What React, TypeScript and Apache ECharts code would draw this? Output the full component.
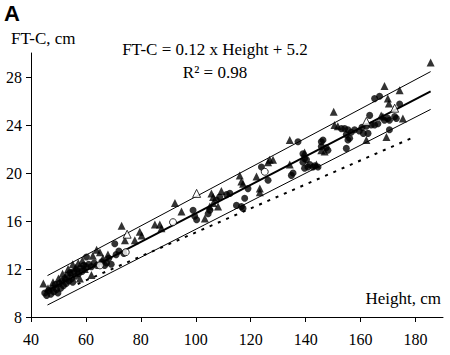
import React, { useEffect, useRef } from 'react';
import * as echarts from 'echarts';

const xTicks = [40, 60, 80, 100, 120, 140, 160, 180];
const yTicks = [8, 12, 16, 20, 24, 28];

const filledCircles: number[][] = [
  [45.0, 10.0], [45.7, 9.8], [46.5, 10.2], [47.2, 9.9], [47.8, 10.4], [48.3, 10.1], [48.8, 10.7], [49.3, 10.3],
  [49.8, 10.0], [50.3, 10.8], [50.8, 10.4], [51.3, 11.0], [51.8, 10.6], [52.3, 11.2], [52.8, 10.8], [53.3, 11.5],
  [53.8, 11.0], [54.3, 11.7], [54.8, 11.2], [55.2, 10.9], [55.7, 11.8], [56.2, 11.4], [56.7, 11.9], [57.3, 11.6],
  [58.0, 12.1], [58.6, 11.8], [59.2, 12.3], [60.0, 12.2], [60.2, 13.0], [61.0, 12.4], [62.0, 12.2], [63.0, 12.5],
  [64.0, 12.3], [65.8, 12.6], [66.8, 12.3], [67.5, 12.5], [68.3, 12.9], [69.2, 12.4], [70.5, 14.1], [71.0, 13.2],
  [72.0, 13.5], [73.8, 13.3],
  [99.0, 16.9], [99.6, 16.4], [100.3, 16.1], [104.5, 16.6], [105.1, 16.9], [107.5, 17.75], [108.7, 18.0],
  [111.2, 18.2], [112.4, 18.3], [114.8, 17.3], [116.6, 17.2], [117.2, 17.05], [117.8, 17.9], [119.0, 18.7],
  [123.9, 20.5], [126.3, 19.4], [134.8, 19.8], [135.4, 20.0], [137.2, 22.6], [139.0, 21.6], [139.6, 21.2],
  [140.3, 21.1], [139.0, 20.9], [139.6, 20.4], [140.8, 20.5], [142.7, 20.5], [144.5, 20.5], [141.5, 20.7],
  [143.3, 20.6], [145.7, 22.6], [146.3, 22.75], [145.7, 22.2], [147.5, 22.1], [148.1, 21.9],
  [153.0, 23.7], [154.2, 23.7], [155.4, 23.6], [156.6, 23.4], [157.8, 23.6], [159.5, 23.5], [160.5, 23.8],
  [161.0, 23.3], [154.8, 23.2], [156.0, 22.9], [155.4, 22.75], [154.8, 22.05], [162.1, 23.9], [163.9, 24.0],
  [165.1, 24.0], [166.3, 24.1], [162.7, 23.3], [163.3, 24.8], [165.1, 26.2], [166.9, 26.4], [168.7, 24.4],
  [169.9, 24.55], [170.5, 24.4], [172.4, 24.7], [173.0, 24.55], [170.5, 23.6], [174.2, 25.75],
];

const filledTriangles: number[][] = [
  [44.5, 10.8], [46.2, 10.4], [48.0, 10.9], [50.0, 11.2], [51.5, 11.6], [52.5, 11.3], [53.5, 12.0], [54.5, 11.7],
  [55.2, 12.4], [56.2, 12.1], [57.2, 12.5], [57.8, 11.2], [58.7, 12.7], [59.6, 12.0], [62.0, 11.5], [62.5, 13.1],
  [63.9, 13.6], [65.1, 13.4], [66.2, 12.9], [68.0, 13.2], [73.0, 15.6], [74.2, 14.4], [77.8, 14.4], [79.6, 15.1],
  [80.3, 14.8],
  [85.1, 15.7], [86.9, 15.7], [87.5, 15.4], [92.4, 17.5], [94.8, 16.8], [103.3, 16.2], [105.7, 18.3], [106.3, 18.0],
  [106.3, 17.5], [105.1, 17.2], [108.1, 17.2], [109.3, 18.5], [116.0, 19.8], [116.6, 19.3], [117.2, 19.1],
  [122.1, 19.7], [123.3, 18.7], [123.3, 18.4], [126.3, 20.9], [126.9, 21.1], [128.1, 21.1], [134.2, 22.75],
  [134.2, 20.7], [139.6, 21.7], [143.9, 20.7], [145.7, 21.9], [146.9, 21.8],
  [150.2, 25.1], [150.5, 24.0], [151.7, 23.9], [162.1, 22.75], [167.5, 24.8], [168.1, 24.7], [168.7, 27.25],
  [169.9, 26.2], [170.3, 25.8], [169.4, 23.0], [174.2, 26.9], [175.4, 24.55], [185.5, 29.2],
];

const openTriangles: number[][] = [[75.0, 14.9], [100.3, 18.3], [162.1, 24.3], [172.4, 25.4]];
const openCircles: number[][] = [[65.1, 12.3], [74.5, 13.4], [91.7, 15.9], [125.1, 20.1]];

const upperLine: number[][] = [[46, 11.45], [185.5, 28.45]];
const fitLine: number[][] = [[45, 10.1], [185.5, 26.8]];
const lowerLine: number[][] = [[46, 9.0], [185.5, 25.3]];
const dottedLine: number[][] = [[57, 10.75], [180, 23.05]];

const SERIF = '"Liberation Serif", "Times New Roman", serif';

export default function App() {
  const ref = useRef<HTMLDivElement>(null);
  useEffect(() => {
    if (!ref.current) return;
    const chart = echarts.init(ref.current, undefined, { renderer: 'svg' });
    const lineSeries = (data: number[][], width: number, type: any = 'solid') => ({
      type: 'line',
      data,
      showSymbol: false,
      symbol: 'none',
      silent: true,
      lineStyle: { color: '#000', width, type },
      z: 1,
    });
    const scatter = (data: number[][], symbol: string, size: number, open: boolean) => ({
      type: 'scatter',
      data,
      symbol,
      symbolSize: size,
      silent: true,
      itemStyle: open
        ? { color: '#fff', borderColor: '#000', borderWidth: 1 }
        : { color: '#000' },
      z: 3,
    });
    chart.setOption({
      animation: false,
      backgroundColor: '#fff',
      grid: { left: 31, top: 53, right: 7, bottom: 38, containLabel: false },
      xAxis: {
        type: 'value',
        min: 40,
        max: 190,
        splitLine: { show: false },
        axisLine: { show: true, onZero: false, lineStyle: { color: '#000', width: 1 } },
        axisTick: { show: true, length: 5, lineStyle: { color: '#000' }, customValues: xTicks },
        axisLabel: { customValues: xTicks, color: '#000', fontFamily: SERIF, fontSize: 16, margin: 14 },
      },
      yAxis: {
        type: 'value',
        min: 8,
        max: 30,
        splitLine: { show: false },
        axisLine: { show: true, onZero: false, lineStyle: { color: '#000', width: 1 } },
        axisTick: { show: true, length: 5, lineStyle: { color: '#000' }, customValues: yTicks },
        axisLabel: { customValues: yTicks, color: '#000', fontFamily: SERIF, fontSize: 16, margin: 9 },
      },
      series: [
        lineSeries(upperLine, 1),
        lineSeries(lowerLine, 1),
        lineSeries(fitLine, 2),
        lineSeries(dottedLine, 2, [3, 6]),
        scatter(filledCircles, 'circle', 7, false),
        scatter(filledTriangles, 'triangle', 8, false),
        scatter(openTriangles, 'triangle', 8, true),
        scatter(openCircles, 'circle', 7, true),
      ],
      graphic: [
        { type: 'text', left: 4, top: 2, style: { text: 'A', font: 'bold 22px "Liberation Sans", Arial, sans-serif', fill: '#000' } },
        { type: 'text', x: 11, y: 38, style: { text: 'FT-C, cm', font: `17px ${SERIF}`, fill: '#000', verticalAlign: 'middle', align: 'left' } },
        { type: 'text', x: 215, y: 49, style: { text: 'FT-C = 0.12 x Height + 5.2', font: `17px ${SERIF}`, fill: '#000', verticalAlign: 'middle', align: 'center' } },
        { type: 'text', x: 215, y: 72, style: { text: 'R² = 0.98', font: `17px ${SERIF}`, fill: '#000', verticalAlign: 'middle', align: 'center' } },
        { type: 'text', x: 441, y: 298, style: { text: 'Height, cm', font: `17px ${SERIF}`, fill: '#000', verticalAlign: 'middle', align: 'right' } },
      ],
    });
    return () => chart.dispose();
  }, []);
  return <div ref={ref} style={{ position: 'fixed', left: 0, top: 0, width: 450, height: 355 }} />;
}
